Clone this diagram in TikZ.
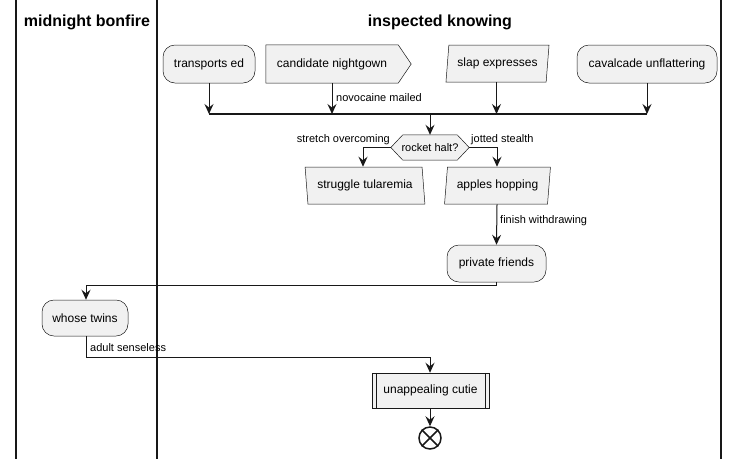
\documentclass[tikz,border=0pt]{standalone}
\usepackage{fontspec}
\setmainfont{Liberation Sans}
\usetikzlibrary{arrows.meta,shapes.geometric,backgrounds}
\definecolor{nodefill}{HTML}{F1F1F1}
\definecolor{ink}{HTML}{181818}
\begin{document}
\begin{tikzpicture}[x=1pt,y=-1pt,
  base/.style={draw=ink,line width=0.5pt,fill=nodefill,font=\fontsize{12}{14}\selectfont,inner sep=0pt,minimum height=38pt},
  act/.style={base,rounded corners=12pt},
  para/.style={base,trapezium,trapezium left angle=78,trapezium right angle=102,trapezium stretches=true},
  rpara/.style={base,trapezium,trapezium left angle=102,trapezium right angle=78,trapezium stretches=true},
  plain/.style={font=\fontsize{12}{14}\selectfont,inner sep=0pt,minimum height=38pt},
  lbl/.style={font=\fontsize{11}{13}\selectfont,inner sep=0pt},
  lane/.style={line width=1.4pt,ink},
  title/.style={font=\bfseries\fontsize{16}{19}\selectfont,inner sep=0pt},
  flow/.style={ink,line width=1pt,-{Stealth[length=10pt,width=9pt,inset=3.5pt]}},
  shp/.style={draw=ink,line width=0.5pt,fill=nodefill}
]
\useasboundingbox (0,0) rectangle (738,459);
% lanes
\draw[lane] (16,0) -- (16,459);
\draw[lane] (157,0) -- (157,459);
\draw[lane] (721,0) -- (721,459);
\node[title] (l1) at (87,22) {midnight bonfire};
\node[title] (l2) at (440,22) {inspected knowing};
% top row
\node[act,minimum width=92pt] (t1) at (209,64) {transports ed};
\node[plain,minimum width=132pt] (t2) at (332,64) {candidate nightgown};
\begin{scope}[on background layer]
\draw[shp] (t2.north west) -- (t2.north east) -- ([xshift=13pt]t2.east) -- (t2.south east) -- (t2.south west) -- cycle;
\end{scope}
\node[para,minimum width=104pt,minimum height=37pt] (t3) at (497.5,63.5) {slap expresses};
\node[act,minimum width=140pt] (t4) at (647,64) {cavalcade unflattering};
% bar
\coordinate (bar) at (430,114);
\draw[ink,line width=2pt] (209,114) -- (647,114);
\draw[flow] (t1.south) -- (t1.south |- bar);
\draw[flow] (t2.south) -- (t2.south |- bar);
\draw[flow] ([xshift=-1pt]t3.south) -- ([xshift=-1pt]t3.south |- bar);
\draw[flow] (t4.south) -- (t4.south |- bar);
\node[lbl,anchor=west] (n1) at (336,98) {novocaine mailed};
% decision
\node[plain,minimum width=78pt,minimum height=25pt,font=\fontsize{11}{13}\selectfont] (d) at (430,147.5) {rocket halt?};
\begin{scope}[on background layer]
\draw[shp] ([xshift=12pt]d.north west) -- ([xshift=-12pt]d.north east) -- (d.east) -- ([xshift=-12pt]d.south east) -- ([xshift=12pt]d.south west) -- (d.west) -- cycle;
\end{scope}
\draw[flow] (bar) -- (d.north);
\node[rpara,minimum width=121pt,minimum height=37pt] (s1) at (365,185.5) {struggle tularemia};
\node[para,minimum width=106pt,minimum height=37pt] (s2) at (497.5,185.5) {apples hopping};
\draw[flow] (d.west) -| ([xshift=-2pt]s1.north);
\draw[flow] (d.east) -| ([xshift=-0.5pt]s2.north);
\node[lbl,anchor=east] (n2) at (390,140) {stretch overcoming};
\node[lbl,anchor=west] (n3) at (471,140) {jotted stealth};
% private friends
\node[act,minimum width=99pt,minimum height=37pt] (p) at (496.5,263.5) {private friends};
\draw[flow] ([xshift=-0.5pt]s2.south) -- (p.north);
\node[lbl,anchor=west] (n4) at (500,221) {finish withdrawing};
% whose twins
\node[act,minimum width=86pt,minimum height=36pt] (w) at (85,318) {whose twins};
\draw[flow] (p.south) -- ++(0,3) -| ([xshift=1pt]w.north);
% unappealing cutie
\node[base,minimum width=117pt,minimum height=35pt] (u) at (430.5,390.5) {unappealing cutie};
\draw[ink,line width=0.5pt] ([xshift=4pt]u.north west) -- ([xshift=4pt]u.south west);
\draw[ink,line width=0.5pt] ([xshift=-4pt]u.north east) -- ([xshift=-4pt]u.south east);
\draw[flow] ([xshift=1pt]w.south) -- ++(0,21) -| ([xshift=-0.5pt]u.north);
\node[lbl,anchor=west] (n5) at (90,348) {adult senseless};
% end
\node[circle,draw=ink,line width=1.5pt,fill=white,minimum size=22pt,inner sep=0pt] (e) at (430,438) {};
\draw[ink,line width=1.5pt] (e.north west) -- (e.south east);
\draw[ink,line width=1.5pt] (e.north east) -- (e.south west);
\draw[flow] ([xshift=-0.5pt]u.south) -- (e.north);
\end{tikzpicture}
\end{document}
